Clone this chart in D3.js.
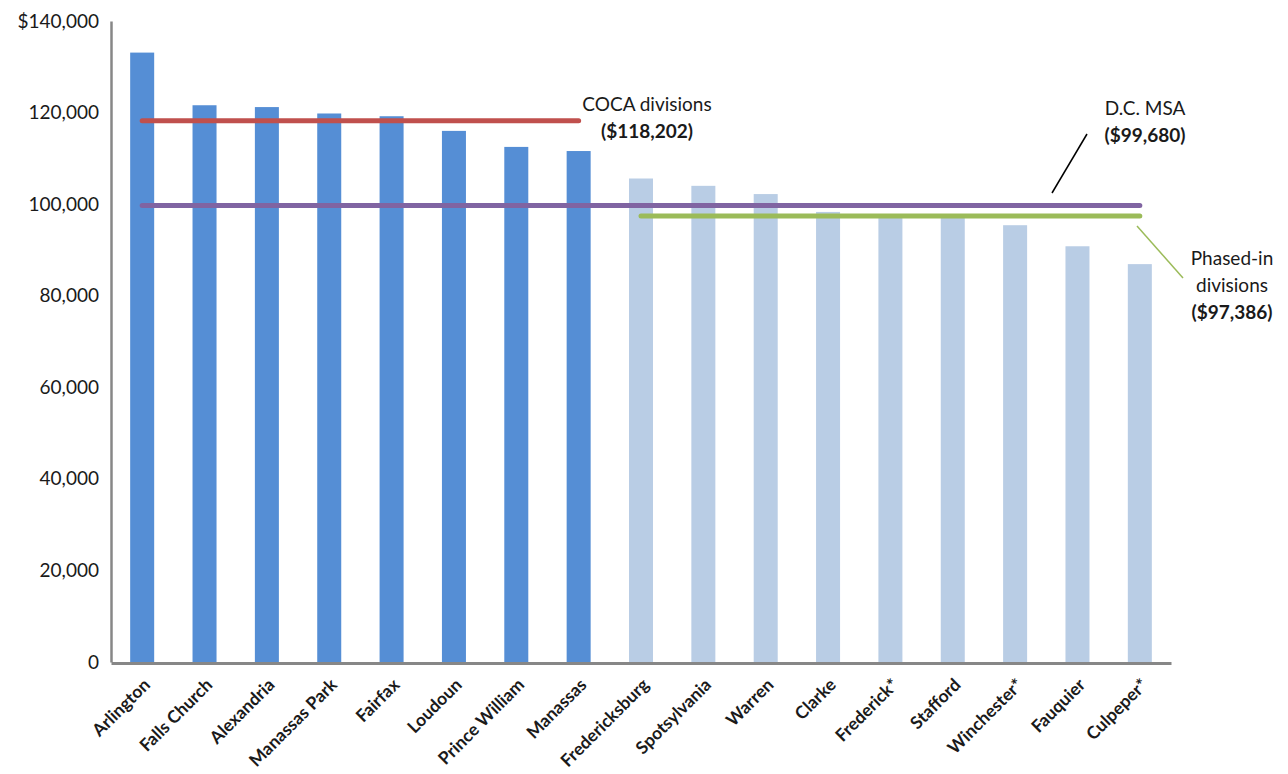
<!DOCTYPE html>
<html>
<head>
<meta charset="utf-8">
<script src="https://cdn.jsdelivr.net/npm/d3@7"></script>
<style>
  body { margin: 0; background: #fff; }
  text { font-family: Lato, "Open Sans", sans-serif; fill: #1a1a1a; }
</style>
</head>
<body>
<svg id="chart" width="1288" height="774"></svg>
<script>
// Average salary by division
const categories = ["Arlington", "Falls Church", "Alexandria", "Manassas Park", "Fairfax",
  "Loudoun", "Prince William", "Manassas", "Fredericksburg", "Spotsylvania", "Warren",
  "Clarke", "Frederick*", "Stafford", "Winchester*", "Fauquier", "Culpeper*"];
const salaries = [133100, 121600, 121200, 119800, 119200, 116000, 112500, 111600,
  105600, 104000, 102200, 98300, 97200, 97100, 95400, 90800, 86900];
// Divisions in the first group (COCA) vs phased-in group
const groups = ["COCA", "COCA", "COCA", "COCA", "COCA", "COCA", "COCA", "COCA",
  "Phased", "Phased", "Phased", "Phased", "Phased", "Phased", "Phased", "Phased", "Phased"];

const yTicks = [0, 20000, 40000, 60000, 80000, 100000, 120000, 140000];

// Benchmark averages and the span of divisions each one covers
const benchNames = ["COCA", "MSA", "Phased"];
const benchValues = [118202, 99680, 97386];
const benchFrom = ["Arlington", "Arlington", "Fredericksburg"];
const benchTo = ["Manassas", "Culpeper*", "Culpeper*"];
const benchLabels = [["COCA divisions", "($118,202)"], ["D.C. MSA", "($99,680)"],
  ["Phased-in", "divisions", "($97,386)"]];

const colors = { COCA: "#558ED5", Phased: "#B9CDE5" };
const benchColors = { COCA: "#C0504D", MSA: "#8064A2", Phased: "#9BBB59" };

const svg = d3.select("#chart");
const plotLeft = 111, plotRight = 1171, plotTop = 21, plotBottom = 662;

const x = d3.scaleBand().domain(categories).range([plotLeft, plotRight])
  .paddingInner(0.615).paddingOuter(0.3075);
const y = d3.scaleLinear().domain([0, 140000]).range([plotBottom, plotTop]);

// Bars
svg.append("g").selectAll("rect").data(categories).join("rect")
  .attr("x", d => x(d))
  .attr("width", x.bandwidth())
  .attr("y", (d, i) => y(salaries[i]))
  .attr("height", (d, i) => y(0) - y(salaries[i]))
  .attr("fill", (d, i) => colors[groups[i]]);

// Y axis
const yAxis = d3.axisLeft(y).tickValues(yTicks).tickSize(0).tickPadding(12)
  .tickFormat(d => d === 140000 ? "$" + d3.format(",")(d) : d3.format(",")(d));
const gy = svg.append("g").attr("transform", `translate(${plotLeft},0)`).call(yAxis);
gy.select(".domain").attr("stroke", "#878787").attr("stroke-width", 2.5);
gy.selectAll(".tick text").attr("font-size", 19).attr("fill", "#1a1a1a")
  .style("font-family", "Lato, 'Open Sans', sans-serif");

// X axis
const xAxis = d3.axisBottom(x).tickSize(0).tickFormat("");
const gx = svg.append("g").attr("transform", `translate(0,${plotBottom + 1})`).call(xAxis);
gx.select(".domain").attr("stroke", "#878787").attr("stroke-width", 3);

// Rotated category labels
svg.append("g").selectAll("text").data(categories).join("text")
  .attr("transform", d => `translate(${x(d) + x.bandwidth() / 2 + 9},${plotBottom + 24}) rotate(-45)`)
  .attr("text-anchor", "end")
  .attr("font-size", 17.5)
  .attr("font-weight", "bold")
  .text(d => d);

// Benchmark lines
const line = d3.line();
benchNames.forEach((name, i) => {
  const x0 = x(benchFrom[i]) + x.bandwidth() / 2;
  const x1 = x(benchTo[i]) + x.bandwidth() / 2;
  svg.append("path")
    .attr("d", line([[x0, y(benchValues[i])], [x1, y(benchValues[i])]]))
    .attr("stroke", benchColors[name])
    .attr("stroke-width", 5)
    .attr("stroke-linecap", "round")
    .attr("fill", "none");
});

// Annotations
const ann = svg.append("g");
// COCA divisions
ann.append("text").attr("x", 647).attr("y", 111).attr("text-anchor", "middle")
  .attr("font-size", 19).text(benchLabels[0][0]);
ann.append("text").attr("x", 647).attr("y", 138).attr("text-anchor", "middle")
  .attr("font-size", 19).attr("font-weight", "bold").text(benchLabels[0][1]);

// D.C. MSA with leader line
ann.append("path").attr("d", line([[1052, 193], [1087, 134]]))
  .attr("stroke", "#000").attr("stroke-width", 1.5);
ann.append("text").attr("x", 1145).attr("y", 115).attr("text-anchor", "middle")
  .attr("font-size", 19).text(benchLabels[1][0]);
ann.append("text").attr("x", 1145).attr("y", 142).attr("text-anchor", "middle")
  .attr("font-size", 19).attr("font-weight", "bold").text(benchLabels[1][1]);

// Phased-in divisions with leader line
ann.append("path").attr("d", line([[1137, 226], [1183, 278]]))
  .attr("stroke", benchColors.Phased).attr("stroke-width", 1.5);
ann.append("text").attr("x", 1232).attr("y", 265).attr("text-anchor", "middle")
  .attr("font-size", 19).text(benchLabels[2][0]);
ann.append("text").attr("x", 1232).attr("y", 292).attr("text-anchor", "middle")
  .attr("font-size", 19).text(benchLabels[2][1]);
ann.append("text").attr("x", 1232).attr("y", 319).attr("text-anchor", "middle")
  .attr("font-size", 19).attr("font-weight", "bold").text(benchLabels[2][2]);
</script>
</body>
</html>
